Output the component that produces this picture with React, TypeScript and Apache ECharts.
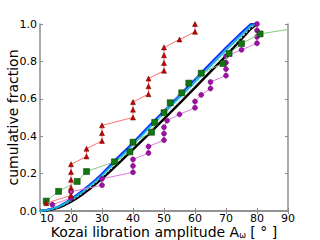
import React, { useEffect, useRef } from "react";
import * as echarts from "echarts";

const xTicks = [10, 20, 30, 40, 50, 60, 70, 80, 90];
const yTicks = ["0.0", "0.2", "0.4", "0.6", "0.8", "1.0"];

const redA = [12, 20, 20, 20, 20, 20, 25, 25, 30, 30, 30, 40, 40, 40, 45, 45, 45, 50, 50, 50, 50, 55, 60, 60];
const redF = [0.042, 0.083, 0.125, 0.167, 0.208, 0.25, 0.292, 0.333, 0.375, 0.417, 0.458, 0.5, 0.542, 0.583, 0.625, 0.667, 0.708, 0.75, 0.792, 0.833, 0.875, 0.917, 0.958, 1.0];

const greenA = [12, 16, 22, 25, 34, 39, 40, 46, 47, 50, 52, 55.7, 58, 62, 69, 71, 75, 81, 101];
const greenF = [0.053, 0.105, 0.158, 0.211, 0.263, 0.316, 0.368, 0.421, 0.474, 0.526, 0.579, 0.632, 0.684, 0.737, 0.789, 0.842, 0.895, 0.947, 1.0];

const magA = [14, 20, 20, 30, 30, 40, 40, 40, 45, 45, 50, 50, 50, 51, 55, 60, 60, 62, 65, 65, 70, 70, 70, 70, 75, 80, 80, 80, 80];
const magF = [0.034, 0.069, 0.103, 0.138, 0.172, 0.207, 0.241, 0.276, 0.31, 0.345, 0.379, 0.414, 0.448, 0.483, 0.517, 0.552, 0.586, 0.621, 0.655, 0.69, 0.724, 0.759, 0.793, 0.828, 0.862, 0.897, 0.931, 0.966, 1.0];

const curveA = [10, 12, 14, 16, 18, 20, 22, 24, 26, 28, 30, 35, 40, 45, 50, 55, 60, 65, 70, 75, 78, 80];
const blueF = [0, 0.005, 0.013, 0.025, 0.043, 0.065, 0.088, 0.113, 0.14, 0.168, 0.2, 0.285, 0.365, 0.452, 0.535, 0.62, 0.705, 0.79, 0.875, 0.955, 1.0, 1.0];
const cyanF = [0, 0.004, 0.012, 0.023, 0.04, 0.06, 0.082, 0.106, 0.133, 0.16, 0.19, 0.272, 0.355, 0.44, 0.523, 0.607, 0.69, 0.775, 0.86, 0.94, 0.99, 1.0];
const grayF = [0, 0.0035, 0.01, 0.02, 0.036, 0.055, 0.076, 0.1, 0.126, 0.153, 0.181, 0.261, 0.343, 0.425, 0.508, 0.591, 0.675, 0.76, 0.845, 0.928, 0.98, 1.0];
const blackF = [0, 0.003, 0.009, 0.018, 0.032, 0.05, 0.07, 0.093, 0.118, 0.145, 0.172, 0.25, 0.33, 0.41, 0.493, 0.575, 0.66, 0.745, 0.83, 0.92, 0.975, 1.0];

const zip = (a: number[], b: number[]) => a.map((v, i) => [v, b[i]]);

export default function App() {
  const ref = useRef<HTMLDivElement>(null);
  useEffect(() => {
    if (!ref.current) return;
    const chart = echarts.init(ref.current, undefined, { renderer: "svg" });
    const frame = "#8c8c8c";
    const font = "DejaVu Sans";
    const lineSeries = (data: number[][], color: string, width: number, type: any = "solid", z = 2) => ({
      type: "line",
      data,
      showSymbol: false,
      symbol: "none",
      lineStyle: { color, width, type },
      z,
      clip: true,
    });
    chart.setOption({
      animation: false,
      grid: { left: 40, right: 32, top: 24, bottom: 29, outerBoundsMode: "none", containLabel: false },
      xAxis: [
        {
          type: "value",
          min: 10,
          max: 90,
          interval: 10,
          name: "Kozai libration amplitude A{s|ω} [ ° ]",
          nameLocation: "middle",
          nameGap: 14,
          nameMoveOverlap: false,
          nameTextStyle: {
            fontFamily: font,
            fontSize: 14,
            lineHeight: 14,
            color: "#000",
            verticalAlign: "top",
            rich: { s: { fontSize: 8, lineHeight: 14, fontFamily: font, color: "#000", verticalAlign: "bottom", padding: [6, 0, 0, 0] } },
          },
          axisLine: { show: true, lineStyle: { color: frame, width: 1.5 } },
          axisTick: { show: true, inside: true, length: 3, lineStyle: { color: frame } },
          axisLabel: {
            fontFamily: font,
            fontSize: 11,
            lineHeight: 11,
            color: "#000",
            margin: 2,
            alignMinLabel: "left",
            formatter: (v: number) => (xTicks.includes(v) ? String(v) : ""),
          },
          splitLine: { show: false },
        },
        {
          type: "value",
          position: "top",
          min: 10,
          max: 90,
          interval: 10,
          axisLine: { show: true, lineStyle: { color: frame, width: 1.5 } },
          axisTick: { show: true, inside: true, length: 3, lineStyle: { color: frame } },
          axisLabel: { show: false },
          splitLine: { show: false },
        },
      ],
      yAxis: [
        {
          type: "value",
          min: 0,
          max: 1,
          interval: 0.2,
          name: "cumulative fraction",
          nameLocation: "middle",
          nameGap: 20,
          nameRotate: 90,
          nameMoveOverlap: false,
          nameTextStyle: { fontFamily: font, fontSize: 14, color: "#000" },
          axisLine: { show: true, lineStyle: { color: frame, width: 1.5 } },
          axisTick: { show: true, inside: true, length: 3, lineStyle: { color: frame } },
          axisLabel: {
            fontFamily: font,
            fontSize: 11,
            lineHeight: 11,
            color: "#000",
            margin: 3,
            formatter: (v: number) => yTicks[Math.round(v * 5)] ?? "",
          },
          splitLine: { show: false },
        },
        {
          type: "value",
          position: "right",
          min: 0,
          max: 1,
          interval: 0.2,
          axisLine: { show: true, lineStyle: { color: frame, width: 1.5 } },
          axisTick: { show: true, inside: true, length: 3, lineStyle: { color: frame } },
          axisLabel: { show: false },
          splitLine: { show: false },
        },
      ],
      series: [
        lineSeries(zip(curveA, blackF), "#000000", 2.5, "solid", 2),
        lineSeries(zip(curveA, grayF), "#d8d8d8", 1.2, [2, 2], 3),
        lineSeries(zip(curveA, cyanF), "#12b8d8", 1.8, "solid", 4),
        lineSeries(zip(curveA, blueF), "#1030ff", 2, "solid", 3),
        {
          type: "line",
          data: zip(magA, magF),
          symbol: "circle",
          symbolSize: 5,
          itemStyle: { color: "#a010a8", borderColor: "#600060", borderWidth: 0.5 },
          lineStyle: { color: "#e07ae0", width: 1 },
          z: 5,
          clip: true,
        },
        {
          type: "line",
          data: zip(greenA, greenF),
          symbol: "rect",
          symbolSize: 6,
          itemStyle: { color: "#117711", borderColor: "#003300", borderWidth: 0.5 },
          lineStyle: { color: "#80cc80", width: 1 },
          z: 6,
          clip: true,
        },
        {
          type: "line",
          data: zip(redA, redF),
          symbol: "triangle",
          symbolSize: 5,
          itemStyle: { color: "#cc0000", borderColor: "#550000", borderWidth: 0.5 },
          lineStyle: { color: "#ff7070", width: 1 },
          z: 7,
          clip: true,
        },
      ],
    });
    return () => chart.dispose();
  }, []);
  return <div ref={ref} style={{ width: 320, height: 240, position: "absolute", left: 0, top: 0 }} />;
}
